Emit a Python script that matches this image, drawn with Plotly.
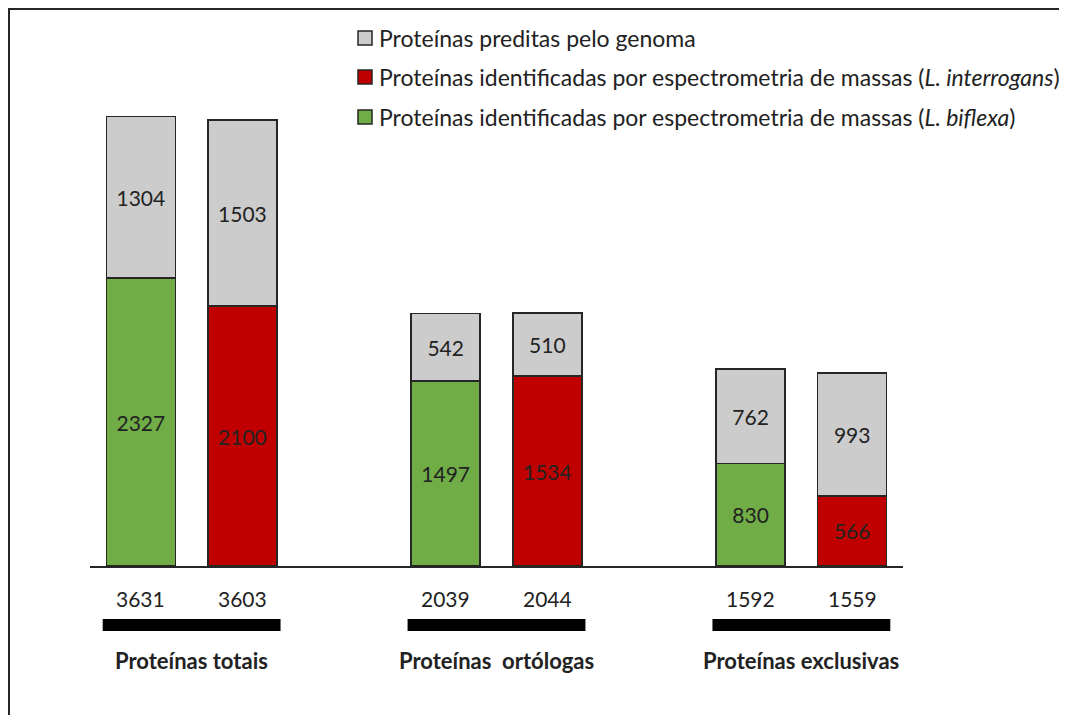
import plotly.graph_objects as go

# ---- data ----
groups = ["Proteínas totais", "Proteínas ortólogas", "Proteínas exclusivas"]
group_labels = ["Proteínas totais", "Proteínas&nbsp; ortólogas", "Proteínas exclusivas"]
identified_biflexa = [2327, 1497, 830]
identified_interrogans = [2100, 1534, 566]
predicted_rest_biflexa = [1304, 542, 762]
predicted_rest_interrogans = [1503, 510, 993]
totals_biflexa = [3631, 2039, 1592]
totals_interrogans = [3603, 2044, 1559]

legend_names = [
    "Proteínas preditas pelo genoma",
    "Proteínas identificadas por espectrometria de massas (<i>L. interrogans</i>)",
    "Proteínas identificadas por espectrometria de massas (<i>L. biflexa</i>)",
]

GREY = "#CCCCCC"
RED = "#C00000"
GREEN = "#70AD47"
EDGE = "#262626"
TXT = "#222222"
FONT = "Lato, 'Open Sans', sans-serif"

OFF = 8  # page body margin
W, H = 1067 - OFF, 715 - OFF
ML, MR = 90 - OFF, W - (903 - OFF)
MT, MB = 71 - OFF, H - (566 - OFF)

def px(xs):
    return (xs - OFF - ML) / (W - ML - MR)

def py(ys):
    return (H - MB - (ys - OFF)) / (H - MT - MB)

n = len(groups)
x_bif = [3 * i for i in range(n)]
x_int = [3 * i + 1 for i in range(n)]
centers = [3 * i + 0.5 for i in range(n)]

x_grey, y_grey = [], []
for i in range(n):
    x_grey += [x_bif[i], x_int[i]]
    y_grey += [predicted_rest_biflexa[i], predicted_rest_interrogans[i]]

bar_common = dict(
    width=0.68,
    textposition="inside",
    insidetextanchor="middle",
    textangle=0,
    texttemplate="%{y}",
    insidetextfont=dict(family=FONT, size=21, color=TXT),
    showlegend=False,
)

fig = go.Figure()
fig.add_trace(go.Bar(x=x_bif, y=identified_biflexa, name="L. biflexa",
                     marker=dict(color=GREEN, line=dict(color=EDGE, width=1.5)), **bar_common))
fig.add_trace(go.Bar(x=x_int, y=identified_interrogans, name="L. interrogans",
                     marker=dict(color=RED, line=dict(color=EDGE, width=1.5)), **bar_common))
fig.add_trace(go.Bar(x=x_grey, y=y_grey, name="preditas",
                     marker=dict(color=GREY, line=dict(color=EDGE, width=1.5)), **bar_common))

annotations = []
shapes = []

for i in range(n):
    for xv, tv in ((x_bif[i], totals_biflexa[i]), (x_int[i], totals_interrogans[i])):
        annotations.append(dict(x=xv, y=py(598), xref="x", yref="paper", text=str(tv),
                                showarrow=False, xanchor="center", yanchor="middle",
                                font=dict(family=FONT, size=21, color=TXT)))
    shapes.append(dict(type="rect", xref="x", yref="paper",
                       x0=centers[i] - 0.875, x1=centers[i] + 0.875,
                       y0=py(631), y1=py(619), fillcolor="black", line=dict(width=0)))
    annotations.append(dict(x=centers[i], y=py(660), xref="x", yref="paper",
                            text="<b>" + group_labels[i] + "</b>", showarrow=False,
                            xanchor="center", yanchor="middle",
                            font=dict(family=FONT, size=22, color=TXT)))

# manual legend
leg_colors = [GREY, RED, GREEN]
leg_rows = [38, 77, 117]
for name, col, ry in zip(legend_names, leg_colors, leg_rows):
    shapes.append(dict(type="rect", xref="paper", yref="paper",
                       x0=px(358), x1=px(372), y0=py(ry + 7), y1=py(ry - 7),
                       fillcolor=col, line=dict(color=EDGE, width=1.5)))
    annotations.append(dict(x=px(377), y=py(ry), xref="paper", yref="paper", text=name,
                            showarrow=False, xanchor="left", yanchor="middle",
                            font=dict(family=FONT, size=23, color=TXT)))

# outer border (top and left visible)
shapes.append(dict(type="rect", xref="paper", yref="paper",
                   x0=px(9), x1=px(1090), y0=py(740), y1=py(9),
                   line=dict(color=EDGE, width=2), fillcolor="rgba(0,0,0,0)"))

fig.update_layout(
    width=W, height=H, autosize=False,
    margin=dict(l=ML, r=MR, t=MT, b=MB, pad=0),
    barmode="stack",
    plot_bgcolor="white", paper_bgcolor="white",
    xaxis=dict(range=[-0.5, 7.5], showline=True, linecolor=EDGE, linewidth=1.5,
               showgrid=False, zeroline=False, showticklabels=False, ticks=""),
    yaxis=dict(range=[0, 4000], visible=False, showgrid=False, zeroline=False),
    annotations=annotations, shapes=shapes,
    font=dict(family=FONT, color=TXT),
    uniformtext=dict(minsize=10),
)

fig.write_html("out.html")
